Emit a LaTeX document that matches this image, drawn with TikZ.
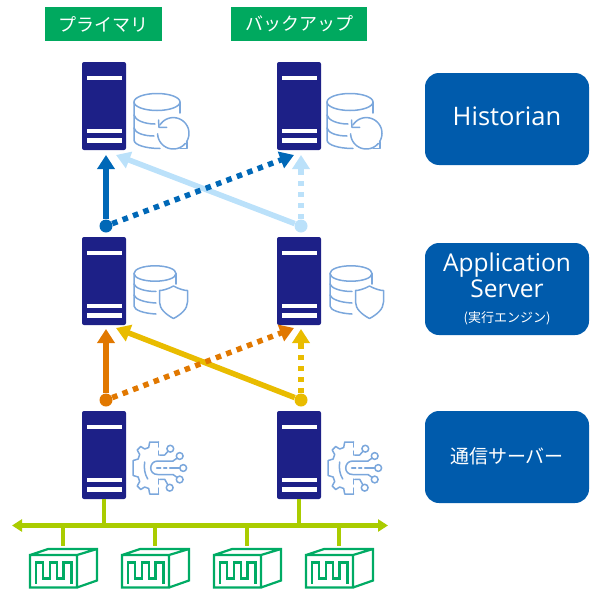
\documentclass[tikz,border=0pt]{standalone}
\usepackage{fontspec}
\setmainfont{Noto Sans CJK JP}
\newfontfamily\jpf{Noto Sans CJK JP}
\newfontfamily\latinf{Open Sans}
\usetikzlibrary{arrows.meta}
\definecolor{navyS}{HTML}{1D2087}
\definecolor{boxB}{HTML}{005BAC}
\definecolor{greenL}{HTML}{00A95F}
\definecolor{iconB}{HTML}{7BA7DC}
\definecolor{arrB}{HTML}{0068B7}
\definecolor{arrL}{HTML}{BBE1FA}
\definecolor{arrO}{HTML}{E17800}
\definecolor{arrY}{HTML}{E9BC00}
\definecolor{busG}{HTML}{AACC00}
\definecolor{devG}{HTML}{00AB64}
\tikzset{
  srvbox/.style={fill=navyS,minimum width=44pt,minimum height=88pt,inner sep=0pt,rounded corners=2pt},
  srvbars/.pic={
    \fill[white] (4.5,13.5) rectangle (40,18);
    \fill[white] (4.5,66.5) rectangle (40,71);
    \fill[white] (4.5,76) rectangle (40,80.5);
  },
  iconln/.style={draw=iconB,line width=1.5pt,line cap=round,line join=round},
  refreshicon/.pic={
    \draw[iconln] (0,9) .. controls (0,4.3) and (10.3,0.5) .. (23,0.5) .. controls (35.7,0.5) and (46,4.3) .. (46,9) .. controls (46,13.7) and (35.7,17.5) .. (23,17.5) .. controls (10.3,17.5) and (0,13.7) .. (0,9);
    \draw[iconln] (0,9) -- (0,47) .. controls (0,52) and (12,55.5) .. (26,55.5);
    \draw[iconln] (46,9) -- (46,20);
    \draw[iconln] (0,22) .. controls (1,27) and (10,31) .. (21,31);
    \draw[iconln] (0,35) .. controls (1,40) and (10,43) .. (20,43);
    \draw[iconln] plot[smooth,domain=212:392,samples=24] ({39.3+15.7*cos(\x)},{40.3+15.7*sin(\x)});
    \draw[iconln] plot[smooth,domain=40:178,samples=20] ({39.3+15.7*cos(\x)},{40.3+15.7*sin(\x)});
    \draw[iconln] (24.5,27) -- (25,34.3) -- (32.7,34.3);
    \draw[iconln] (53,48.7) -- (53,55.3) -- (46,55.3);
  },
  shieldicon/.pic={
    \draw[iconln] (0,8.5) .. controls (0,4) and (9.4,0.8) .. (21,0.8) .. controls (32.6,0.8) and (42,4) .. (42,8.5) .. controls (42,13) and (32.6,16.2) .. (21,16.2) .. controls (9.4,16.2) and (0,13) .. (0,8.5);
    \draw[iconln] (0,8.5) -- (0,41) .. controls (0,45) and (10,48.5) .. (22,49);
    \draw[iconln] (42,8.5) -- (42,19);
    \draw[iconln] (0,19) .. controls (1,23) and (10,26.5) .. (22,26.5);
    \draw[iconln] (0,30) .. controls (1,34) and (10,37.5) .. (22,38);
    \draw[iconln] (39.5,21) .. controls (34,24) and (29,25.5) .. (25.5,25.5) -- (25.5,37) .. controls (25.5,44) and (32,49.5) .. (39.5,53.5) .. controls (47,49.5) and (53.5,44) .. (53.5,37) -- (53.5,25.5) .. controls (50,25.5) and (45,24) .. (39.5,21) -- cycle;
  },
  gearicon/.pic={
    \draw[iconln] (0,-26) -- (-9,-26) -- (-10,-20.5) -- (-14,-19) -- (-18,-21.5) -- (-21.5,-18) -- (-19,-13.5) -- (-20.5,-9) -- (-25.5,-7.5) -- (-25.5,7.5) -- (-20.5,9) -- (-19,13.5) -- (-21.5,18) -- (-18,21.5) -- (-14,19) -- (-10,20.5) -- (-9,26) -- (0,26);
    \draw[iconln] (0,-26) -- (0,-21) (0,-17) -- (0,-13);
    \draw[iconln] (0,11) -- (0,16) (0,20) -- (0,26);
    \draw[iconln] (-14,-6) .. controls (-15,0) and (-14,6) .. (-11,11);
    \draw[iconln] (14.3,-7) -- (-1,-7) .. controls (-5.5,-7) and (-8,-3.5) .. (-8,0) .. controls (-8,3.5) and (-5.5,6.5) .. (-1,6.5) -- (14.3,6.5);
    \draw[iconln] (-2,0) -- (2,0) (5,0) -- (8,0) (11,0) -- (21,0);
    \draw[iconln] (14.3,-7) -- (18.5,-10);
    \draw[iconln] (14.3,6.5) -- (18.5,9.5);
    \draw[iconln] (1,-13) -- (6,-13) -- (9.5,-17);
    \draw[iconln] (1,11.3) -- (6,11.3) -- (9,16.5);
    \foreach \a/\b in {11.6/-19.3,21/-12,24.5/0,21/11.5,11/19.7}
      \draw[iconln] (\a,\b) circle[radius=3.4];
  },
  device/.pic={
    \draw[devG,line width=2.2pt,line join=miter]
      (47,39) -- (0,39) -- (0,6.5) -- (47,6.5) -- cycle
      (0,6.5) -- (18,0.5) -- (67,0.5) -- (67,32) -- (47,39)
      (47,6.5) -- (67,0.5);
    \draw[devG,line width=2.2pt,line join=miter]
      (6,35) -- (6,14) -- (13,14) -- (13,30) -- (20,30) -- (20,14) -- (27,14) -- (27,30) -- (33.5,30) -- (33.5,14) -- (41.5,14) -- (41.5,35);
  },
  labelbox/.style={fill=greenL,text=white,minimum height=34pt,inner sep=0pt,font=\fontsize{18}{18}\selectfont},
  sidebox/.style={fill=boxB,rounded corners=14pt,minimum width=164pt,minimum height=92pt,inner sep=0pt,text=white,align=center},
  dot/.style={circle,inner sep=0pt,minimum size=13pt},
  solidarr/.style={line width=5.5pt,-{Triangle[length=14pt,width=17pt]}},
  dotarr/.style={line width=5.5pt,dash pattern=on 5.5pt off 5.6pt,-{Triangle[length=14pt,width=17pt]}},
}
\begin{document}
\begin{tikzpicture}[x=1pt,y=-1pt]
\useasboundingbox (0,0) rectangle (594,589);
% labels
\node[labelbox,minimum width=117pt] (lp) at (103.5,24) {プライマリ};
\node[labelbox,minimum width=136pt] (lb) at (299,24) {バックアップ};
% side boxes
\node[sidebox,font=\latinf\fontsize{25.5}{26}\selectfont] (hist) at (507,119) {\raisebox{5pt}{Historian}};
\node[sidebox,font=\latinf\fontsize{24.5}{26}\selectfont] (app) at (507,289) {\raisebox{1pt}{Application}\\\raisebox{1pt}{Server}\\[-2pt]{\jpf\fontsize{13}{13}\selectfont (実行エンジン)}};
\node[sidebox,font=\fontsize{19}{20}\selectfont] (comm) at (507,457) {\raisebox{2.5pt}{通信サーバー}};
% bus
\coordinate (busL) at (12,525.5);
\coordinate (busR) at (388,525.5);
\draw[busG,line width=5pt,{Triangle[length=10pt,width=12pt]}-{Triangle[length=10pt,width=12pt]}] (busL) -- (busR);
% servers
\foreach \nm/\x/\y in {sa/104/106,sb/299/106,sc/104/281,sd/299/281,se/104/455,sf/299/455}{
  \node[srvbox] (\nm) at (\x,\y) {};
  \pic at (\x-22,\y-44) {srvbars};
}
\coordinate (bus1) at (104,525);
\coordinate (bus2) at (299,525);
\draw[busG,line width=3.6pt] (se.south) -- (bus1);
\draw[busG,line width=3.6pt] (sf.south) -- (bus2);
% devices
\foreach \x/\dx in {30/63,122/155,214/247,306/339}{
  \draw[busG,line width=3.3pt] (\dx,525) -- (\dx,545.5);
  \pic at (\x,548.5) {device};
}
% icons
\pic at (134,93) {refreshicon};
\pic at (327,93) {refreshicon};
\pic at (134,265) {shieldicon};
\pic at (330,265) {shieldicon};
\pic at (158.7,468) {gearicon};
\pic at (353.7,468) {gearicon};
% arrow end points
\coordinate (t1) at (106,155);
\coordinate (t2) at (116,155);
\coordinate (t3) at (294,155);
\coordinate (t4) at (301,155);
\coordinate (u1) at (106,329);
\coordinate (u2) at (116,328);
\coordinate (u3) at (294,328);
\coordinate (u4) at (301,329);
% dots
\node[dot,fill=arrB] (d1) at (106,226) {};
\node[dot,fill=arrL] (d2) at (301,226) {};
\node[dot,fill=arrO] (d3) at (106,400) {};
\node[dot,fill=arrY] (d4) at (301,400) {};
% upper arrows
\draw[dotarr,arrL] (d2) -- (t4);
\draw[solidarr,arrL] (d2) -- (t2);
\draw[dotarr,arrB] (d1) -- (t3);
\draw[solidarr,arrB] (d1) -- (t1);
% lower arrows
\draw[dotarr,arrY] (d4) -- (u4);
\draw[solidarr,arrY] (d4) -- (u2);
\draw[dotarr,arrO] (d3) -- (u3);
\draw[solidarr,arrO] (d3) -- (u1);
\end{tikzpicture}
\end{document}
